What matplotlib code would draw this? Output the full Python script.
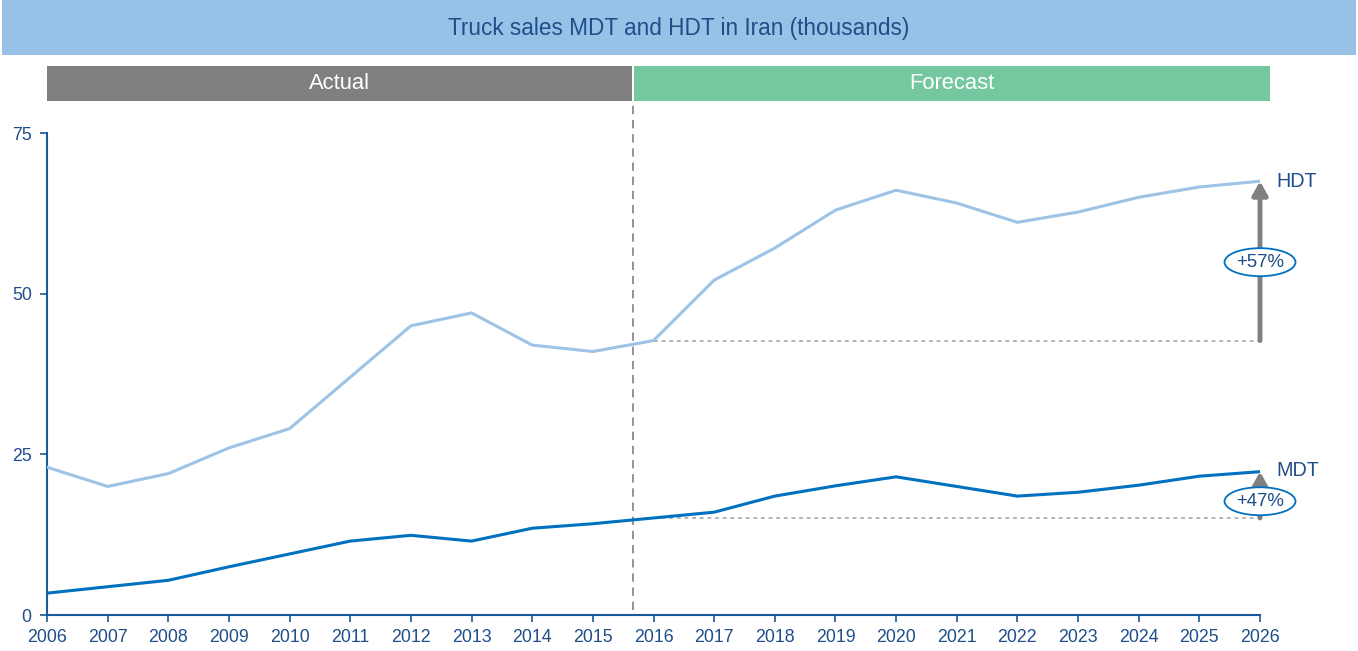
import matplotlib
matplotlib.use("Agg")
import matplotlib.pyplot as plt
from matplotlib.patches import Rectangle, Ellipse
import matplotlib.transforms as mtransforms

years = list(range(2006, 2027))
hdt = [23.0, 20.0, 22.0, 26.0, 29.0, 37.0, 45.0, 47.0, 42.0, 41.0, 42.7,
       52.1, 57.1, 63.0, 66.1, 64.1, 61.1, 62.7, 65.0, 66.6, 67.5]
mdt = [3.4, 4.4, 5.4, 7.5, 9.5, 11.5, 12.4, 11.5, 13.5, 14.2, 15.1,
       16.0, 18.5, 20.1, 21.5, 20.0, 18.5, 19.1, 20.2, 21.6, 22.3]
yticks = [0, 25, 50, 75]
title = "Truck sales MDT and HDT in Iran (thousands)"
hdt_growth = "+57%"
mdt_growth = "+47%"
split_year = 2015.66
base_year = 2016

plt.rcParams['font.family'] = ['Liberation Sans', 'DejaVu Sans']
DARK = "#1F4E89"
AX = "#1A5A9A"
C_HDT = "#9DC3E6"
C_MDT = "#0070C0"
GREY = "#808080"

fig = plt.figure(figsize=(13.58, 6.51), dpi=100)
ax = fig.add_axes([47/1358, 1-615/651, (1260-47)/1358, (615-133)/651])

# title band
fig.patches.append(Rectangle((2/1358, 1-55/651), 1354/1358, 55/651,
                             transform=fig.transFigure, facecolor="#97C1E6",
                             edgecolor="none", zorder=0))
fig.text(0.5, 1-28/651, title, ha="center", va="center", fontsize=16.3, color=DARK)

ax.plot(years, hdt, color=C_HDT, lw=2.2, solid_joinstyle="miter", zorder=3)
ax.plot(years, mdt, color=C_MDT, lw=2.2, solid_joinstyle="miter", zorder=3)

ax.set_xlim(2006, 2026)
ax.set_ylim(0, 75)
ax.set_xticks(years)
ax.set_yticks(yticks)
for s in ["top", "right"]:
    ax.spines[s].set_visible(False)
for s in ["left", "bottom"]:
    ax.spines[s].set_color(AX)
    ax.spines[s].set_linewidth(1.5)
ax.tick_params(colors=AX, labelcolor=DARK, labelsize=12.8, width=1.2, length=5)
ax.tick_params(axis="x", pad=5)
ax.tick_params(axis="y", pad=6)

trans = mtransforms.blended_transform_factory(ax.transData, ax.transAxes)
# Actual / Forecast bands
ax.add_patch(Rectangle((2006, 1.066), split_year - 0.015 - 2006, 0.073, transform=trans,
                       facecolor="#7F7F7F", edgecolor="none", clip_on=False))
ax.add_patch(Rectangle((split_year + 0.015, 1.066), 2026.165 - split_year - 0.015, 0.073,
                       transform=trans, facecolor="#75C7A0", edgecolor="none", clip_on=False))
ax.text((2006 + split_year) / 2, 1.1025, "Actual", transform=trans, ha="center", va="center",
        color="white", fontsize=15.8, clip_on=False)
ax.text((split_year + 2026.165) / 2, 1.1025, "Forecast", transform=trans, ha="center",
        va="center", color="white", fontsize=15.8, clip_on=False)

# vertical split line
ax.plot([split_year, split_year], [0.01, 1.066], transform=trans, color=GREY, lw=1.2,
        dashes=(5, 3.5), clip_on=False, zorder=2)

# baselines
i0 = years.index(base_year)
for series in (hdt, mdt):
    ax.plot([base_year, 2026], [series[i0], series[i0]], color="#A0A0A0", lw=1.1,
            dashes=(2.5, 2.5), zorder=2)

# growth arrows
for series in (hdt, mdt):
    ax.annotate("", xy=(2026, series[-1]), xytext=(2026, series[i0]),
                arrowprops=dict(arrowstyle="-|>,head_width=0.45,head_length=0.8",
                                color=GREY, lw=3.5, shrinkA=0, shrinkB=0), zorder=4)

# ellipse labels
def growth_label(yv, txt):
    e = Ellipse((2026, yv), width=71/60.65, height=28/6.427, facecolor="white",
                edgecolor=C_MDT, lw=1.3, zorder=5, clip_on=False)
    ax.add_patch(e)
    ax.text(2026, yv, txt, ha="center", va="center", color=DARK, fontsize=13.4,
            zorder=6, clip_on=False)

growth_label(54.9, hdt_growth)
growth_label(17.7, mdt_growth)

ax.text(2026.27, hdt[-1], "HDT", ha="left", va="center", color=DARK, fontsize=14.2, clip_on=False)
ax.text(2026.27, mdt[-1] + 0.2, "MDT", ha="left", va="center", color=DARK, fontsize=14.2, clip_on=False)

fig.savefig("out.png", dpi=100, facecolor="white")
